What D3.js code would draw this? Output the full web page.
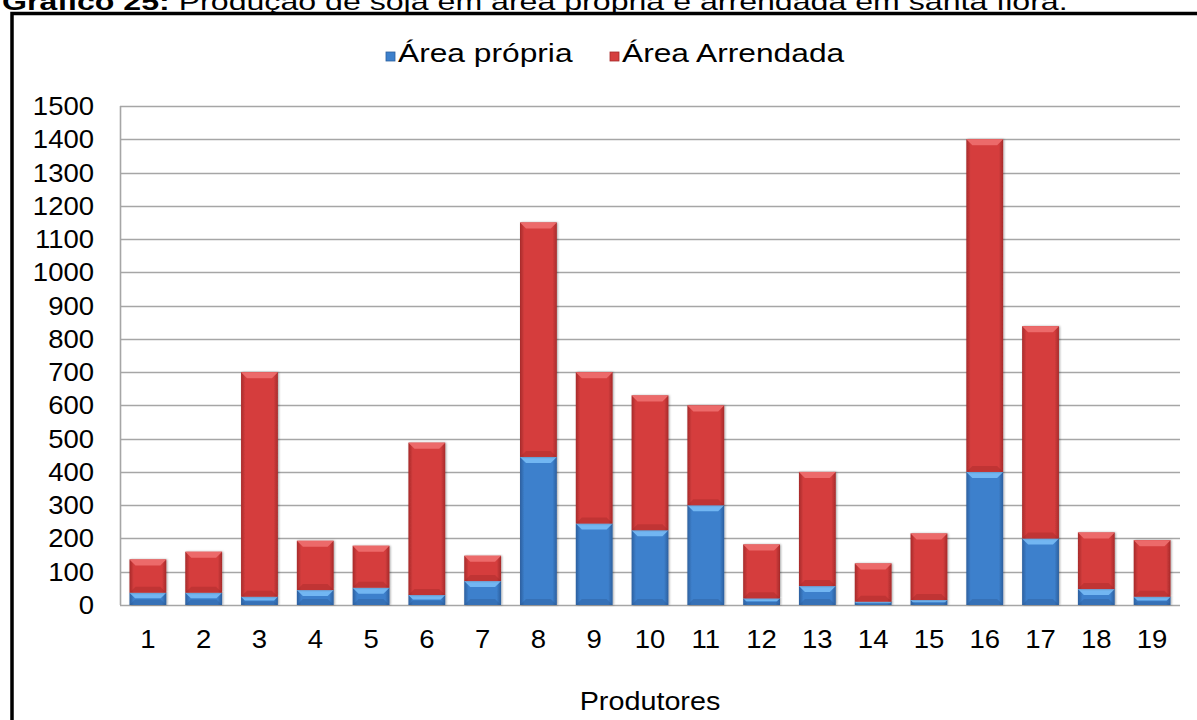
<!DOCTYPE html>
<html>
<head>
<meta charset="utf-8">
<script src="https://cdn.jsdelivr.net/npm/d3@7"></script>
<style>
  html, body { margin: 0; padding: 0; background: #fff; }
  svg { display: block; font-family: Arial, "Liberation Sans", sans-serif; }
</style>
</head>
<body>
<svg id="chart" width="1197" height="720"></svg>
<script>
// Producers (x categories)
const produtores = ["1","2","3","4","5","6","7","8","9","10","11","12","13","14","15","16","17","18","19"];
// Own area per producer
const areaPropria = [37, 37, 25, 45, 52, 30, 72, 445, 245, 225, 300, 20, 57, 10, 15, 400, 200, 48, 25];
// Leased area per producer (stacked above own area)
const areaArrendada = [100, 123, 675, 148, 126, 458, 76, 705, 455, 405, 300, 162, 343, 115, 200, 1000, 638, 170, 170];
// Y axis ticks
const yTicks = [0,100,200,300,400,500,600,700,800,900,1000,1100,1200,1300,1400,1500];

const seriesNames = ["Área própria", "Área Arrendada"];

const svg = d3.select("#chart");
const plot = { left: 120, right: 1180, top: 106, bottom: 605 };

// Horizontally stretched text helper
function label(g, x, y, txt, size, anchor, sx, weight) {
  return g.append("text")
    .attr("transform", `translate(${x},${y}) scale(${sx},1)`)
    .attr("text-anchor", anchor)
    .attr("font-size", size)
    .attr("font-weight", weight || "normal")
    .attr("fill", "#000")
    .text(txt);
}

// Gradients for bevelled bars
const defs = svg.append("defs");
const palettes = {
  blue: { edge: "#2c5f9e", mid: "#3d80cc", top: "#72b6f2", bottom: "#2a5690" },
  red:  { edge: "#a62a2a", mid: "#d53e3e", top: "#ec6a6a", bottom: "#9c2626" }
};
Object.entries(palettes).forEach(([k, p]) => {
  const gr = defs.append("linearGradient").attr("id", "g-" + k)
    .attr("x1", 0).attr("x2", 1).attr("y1", 0).attr("y2", 0);
  gr.append("stop").attr("offset", "0%").attr("stop-color", p.edge);
  gr.append("stop").attr("offset", "12%").attr("stop-color", p.mid);
  gr.append("stop").attr("offset", "88%").attr("stop-color", p.mid);
  gr.append("stop").attr("offset", "100%").attr("stop-color", p.edge);
});
const sh = defs.append("filter").attr("id", "shadow").attr("x", "-20%").attr("y", "-5%").attr("width", "140%").attr("height", "110%");
sh.append("feDropShadow").attr("dx", 1).attr("dy", 0).attr("stdDeviation", 1.2).attr("flood-color", "#000").attr("flood-opacity", 0.35);

// Title (runs along the top edge, above the frame)
const title = svg.append("text")
  .attr("font-size", 24)
  .attr("fill", "#000");
title.append("tspan").attr("font-weight", "bold").text("Gráfico 25:");
title.append("tspan").text(" Produção de soja em área própria e arrendada em santa flora.");
const tl = title.node().getComputedTextLength();
title.attr("transform", `translate(2,10) scale(${1066 / tl},1)`);

// Frame
svg.append("rect")
  .attr("x", 12).attr("y", 13.5)
  .attr("width", 1200).attr("height", 720)
  .attr("fill", "none").attr("stroke", "#000").attr("stroke-width", 3.5);

// Scales
const x = d3.scaleBand().domain(produtores).range([plot.left, plot.right])
  .paddingInner(0.34).paddingOuter(0.17);
const y = d3.scaleLinear().domain([0, 1500]).range([plot.bottom, plot.top]);

// Gridlines
svg.append("g").selectAll("line").data(yTicks).join("line")
  .attr("x1", plot.left).attr("x2", plot.right)
  .attr("y1", d => Math.round(y(d)) + 0.5).attr("y2", d => Math.round(y(d)) + 0.5)
  .attr("stroke", "#a6a6a6").attr("stroke-width", 1.6);
svg.append("line")
  .attr("x1", plot.left + 0.5).attr("x2", plot.left + 0.5)
  .attr("y1", y(1500)).attr("y2", y(0))
  .attr("stroke", "#a6a6a6").attr("stroke-width", 1.6);

// Y tick labels
const yl = svg.append("g");
yTicks.forEach(t => label(yl, 94, y(t) + 9, String(t), 25, "end", 1.1));

// Stacked data
const rows = produtores.map((p, i) => ({ p, propria: areaPropria[i], arrendada: areaArrendada[i] }));
const stack = d3.stack().keys(["propria", "arrendada"])(rows);
const colorKey = ["blue", "red"];

const bars = svg.append("g");
stack.forEach((layer, li) => {
  const pal = palettes[colorKey[li]];
  layer.forEach(d => {
    const x0 = x(d.data.p), bw = x.bandwidth();
    const yTop = y(d[1]), yBot = y(d[0]);
    const h = yBot - yTop;
    const b = Math.min(6, h / 2.2);
    const g = bars.append("g");
    g.append("rect").attr("x", x0).attr("y", yTop).attr("width", bw).attr("height", h)
      .attr("fill", `url(#g-${colorKey[li]})`).attr("filter", "url(#shadow)");
    // top bevel
    g.append("path")
      .attr("d", `M${x0},${yTop} L${x0 + bw},${yTop} L${x0 + bw - b},${yTop + b} L${x0 + b},${yTop + b} Z`)
      .attr("fill", pal.top);
    // bottom bevel
    g.append("path")
      .attr("d", `M${x0},${yBot} L${x0 + bw},${yBot} L${x0 + bw - b},${yBot - b} L${x0 + b},${yBot - b} Z`)
      .attr("fill", pal.bottom).attr("opacity", 0.35);
  });
});

// X tick labels
const xl = svg.append("g");
produtores.forEach(p => label(xl, x(p) + x.bandwidth() / 2, 648, p, 25, "middle", 1.1));

// X axis title
label(svg, (plot.left + plot.right) / 2, 710, "Produtores", 25, "middle", 1.15);

// Legend
const leg = svg.append("g");
const legItems = [
  { name: seriesNames[0], key: "blue", sx: 386, tx: 398 },
  { name: seriesNames[1], key: "red", sx: 610, tx: 622 }
];
legItems.forEach(it => {
  const p = palettes[it.key];
  leg.append("rect").attr("x", it.sx).attr("y", 52).attr("width", 9).attr("height", 9)
    .attr("fill", p.mid).attr("stroke", p.edge).attr("stroke-width", 0.8);
  label(leg, it.tx, 62, it.name, 26, "start", 1.22);
});
</script>
</body>
</html>
